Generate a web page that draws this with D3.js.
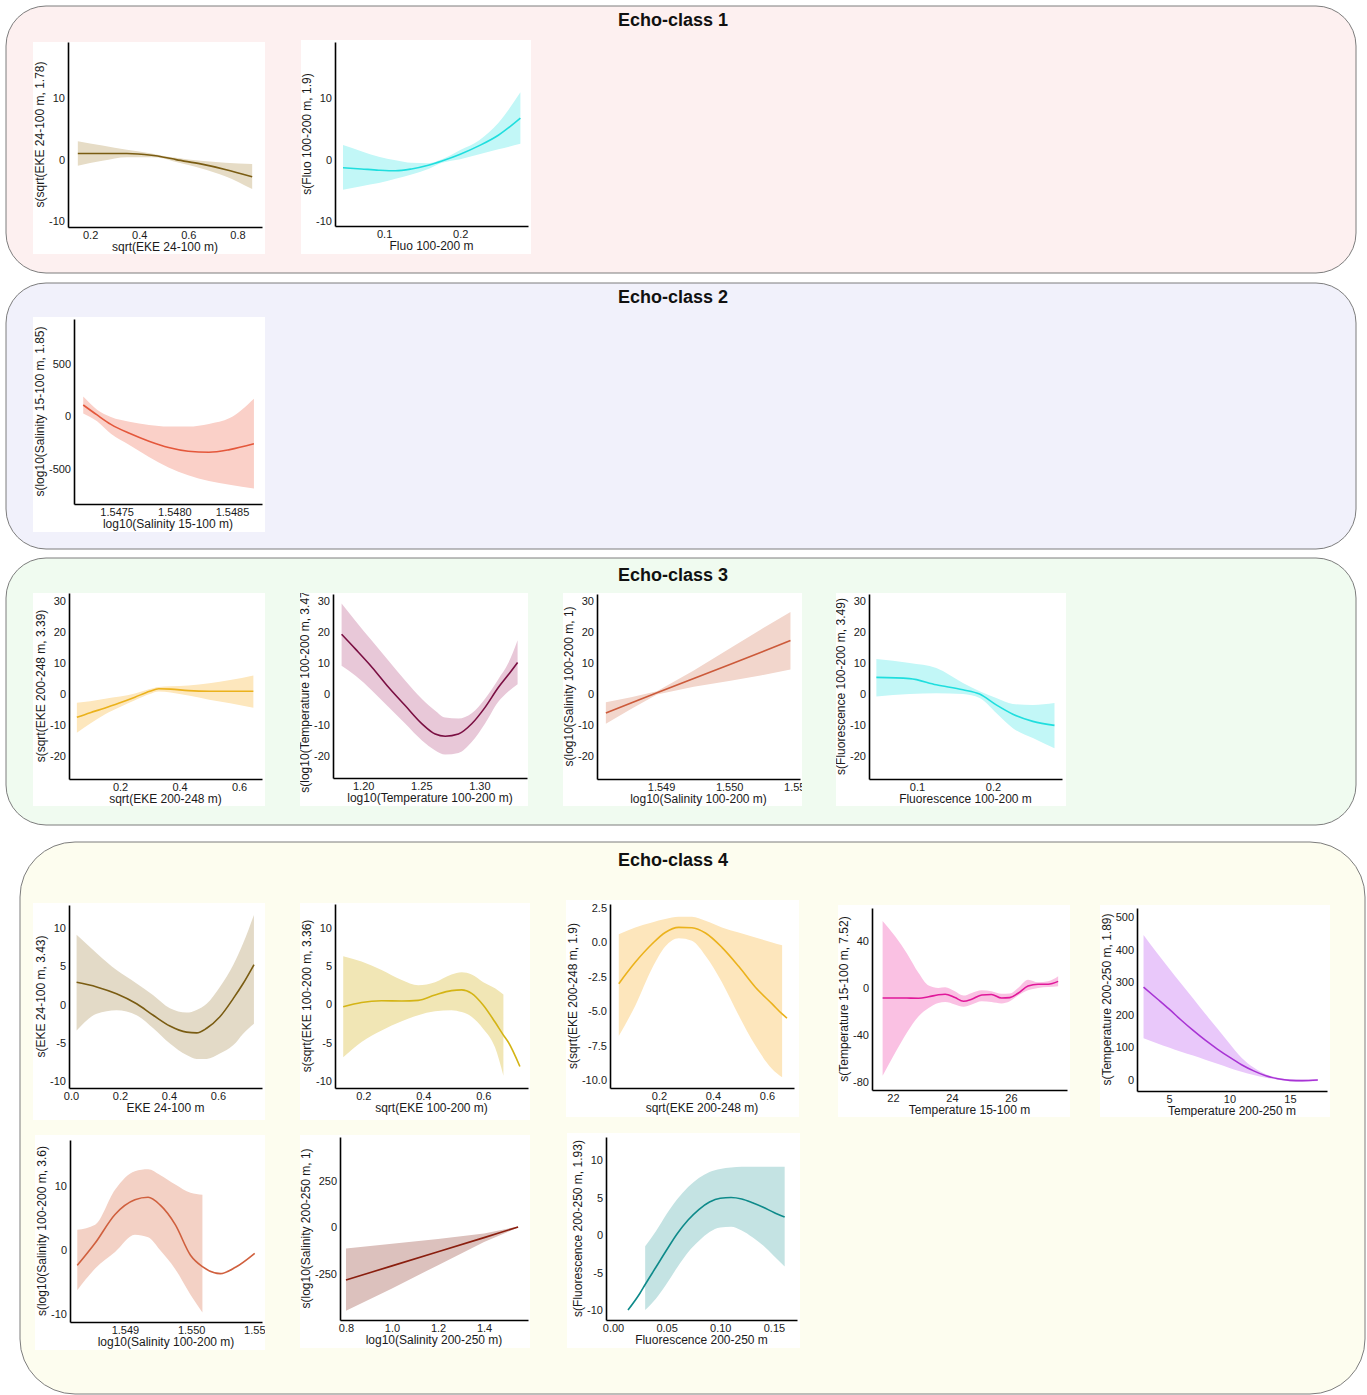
<!DOCTYPE html>
<html>
<head>
<meta charset="utf-8">
<script src="https://cdn.jsdelivr.net/npm/d3@7"></script>
<style>
  body { margin: 0; background: #fff; }
  svg { display: block; }
</style>
</head>
<body>
<div id="fig"></div>
<script>
// ---- data ----
const echoClasses = ['Echo-class 1', 'Echo-class 2', 'Echo-class 3', 'Echo-class 4'];

// Echo-class 1
const e1EkeX = [0.15, 0.25, 0.35, 0.45, 0.5, 0.55, 0.65, 0.75, 0.86];
const e1EkeFit = [1.0, 1.0, 1.0, 0.7, 0.4, 0.0, -0.7, -1.6, -2.8];
const e1EkeLo = [-1.0, -0.2, 0.4, 0.4, 0.2, -0.4, -1.4, -2.7, -4.8];
const e1EkeHi = [3.0, 2.3, 1.6, 1.0, 0.6, 0.3, -0.2, -0.5, -0.7];

const e1FluoX = [0.046, 0.07, 0.093, 0.115, 0.136, 0.158, 0.176, 0.2, 0.225, 0.25, 0.279];
const e1FluoFit = [-1.3, -1.5, -1.7, -1.8, -1.5, -0.9, -0.2, 0.9, 2.3, 4.0, 6.8];
const e1FluoLo = [-4.9, -4.3, -3.8, -3.1, -2.4, -1.5, -0.5, 0.1, 0.9, 1.7, 2.6];
const e1FluoHi = [2.4, 1.4, 0.5, -0.1, -0.5, -0.55, 0.1, 1.6, 3.2, 6.0, 11.0];

// Echo-class 2
const e2SalX = [1.54721, 1.54733, 1.54745, 1.54761, 1.54778, 1.54795, 1.54812, 1.5483, 1.54848, 1.54869];
const e2SalFit = [105, 10, -80, -165, -240, -300, -335, -345, -320, -265];
const e2SalLo = [25, -50, -170, -275, -390, -490, -565, -620, -655, -690];
const e2SalHi = [185, 60, -10, -55, -85, -100, -100, -75, -20, 165];

// Echo-class 3
const e3EkeX = [0.055, 0.1, 0.15, 0.2, 0.25, 0.3, 0.33, 0.37, 0.43, 0.5, 0.57, 0.648];
const e3EkeFit = [-7.5, -6.0, -4.5, -2.8, -1.0, 0.9, 1.7, 1.6, 1.1, 0.9, 0.9, 0.9];
const e3EkeLo = [-12.5, -9.5, -6.5, -4.2, -2.0, 0.0, 0.8, 0.5, -0.5, -1.8, -3.0, -4.4];
const e3EkeHi = [-2.8, -2.3, -1.5, -0.8, 0.2, 1.6, 2.3, 2.5, 2.8, 3.5, 4.5, 6.0];

const e3TempX = [1.1814, 1.1934, 1.2077, 1.222, 1.2363, 1.2506, 1.262, 1.2706, 1.282, 1.2934, 1.3049, 1.3163, 1.3249, 1.3329];
const e3TempFit = [19.3, 14.5, 8.6, 2.1, -3.8, -9.6, -12.9, -13.6, -12.9, -9.6, -4.3, 2.1, 6.2, 10.2];
const e3TempLo = [9.1, 5.9, 1.1, -4.3, -9.6, -15.0, -18.2, -19.5, -19.0, -15.5, -9.5, -2.5, 0.8, 3.2];
const e3TempHi = [29.2, 23.6, 17.1, 10.7, 4.3, -1.6, -5.4, -7.6, -7.9, -6.2, -1.5, 4.8, 10.0, 17.4];

const e3SalX = [1.54819, 1.54856, 1.54894, 1.54948, 1.55002, 1.55046, 1.5509];
const e3SalFit = [-6.1, -2.9, 0.4, 5.0, 9.6, 13.4, 17.3];
const e3SalLo = [-9.6, -4.8, -0.1, 2.4, 4.3, 6.0, 7.9];
const e3SalHi = [-2.6, -1.0, 0.9, 7.6, 14.9, 20.8, 26.5];

const e3FluoX = [0.0465, 0.0904, 0.1254, 0.1605, 0.1825, 0.2044, 0.2263, 0.2526, 0.2811];
const e3FluoFit = [5.4, 5.0, 3.0, 1.4, 0.0, -3.5, -6.5, -8.8, -10.1];
const e3FluoLo = [-0.8, 0.0, 0.3, 0.0, -1.3, -6.1, -11.0, -14.2, -17.5];
const e3FluoHi = [11.3, 10.0, 8.4, 3.6, 0.9, -1.3, -3.2, -3.5, -2.9];

// Echo-class 4
const e4Eke24X = [0.023, 0.105, 0.186, 0.268, 0.336, 0.404, 0.472, 0.513, 0.554, 0.608, 0.663, 0.703, 0.747];
const e4Eke24Fit = [2.9, 2.3, 1.4, 0.1, -1.4, -2.8, -3.6, -3.7, -3.1, -1.6, 0.8, 2.75, 5.2];
const e4Eke24Lo = [-3.4, -1.2, -0.74, -1.4, -3.1, -5.1, -6.6, -7.1, -7.1, -6.4, -5.3, -3.8, -2.5];
const e4Eke24Hi = [9.1, 6.7, 4.5, 2.75, 1.2, -0.5, -1.05, -0.7, 0.1, 2.3, 5.2, 8.0, 11.7];

const e4Eke100X = [0.133, 0.194, 0.261, 0.328, 0.383, 0.439, 0.494, 0.528, 0.561, 0.6, 0.639, 0.667, 0.683, 0.722];
const e4Eke100Fit = [-0.3, 0.26, 0.48, 0.44, 0.53, 1.23, 1.8, 1.9, 1.45, -0.1, -2.3, -4.0, -4.9, -8.1];
const e4Eke100Lo = [-6.9, -4.9, -3.4, -2.2, -1.4, -0.9, -0.75, -1.0, -1.6, -3.2, -5.6, -9.3, null, null];
const e4Eke100Hi = [6.3, 5.6, 4.5, 3.2, 2.5, 2.9, 3.9, 4.2, 3.9, 2.9, 2.1, 1.3, null, null];

const e4Eke200X = [0.051, 0.112, 0.174, 0.223, 0.273, 0.322, 0.372, 0.433, 0.495, 0.557, 0.619, 0.656, 0.674];
const e4Eke200Fit = [-3.0, -1.45, -0.12, 0.72, 1.09, 1.06, 0.68, -0.36, -1.74, -3.26, -4.47, -5.2, -5.5];
const e4Eke200Lo = [-6.8, -4.6, -1.9, -0.3, 0.3, 0.12, -0.97, -2.9, -5.3, -7.5, -9.2, -9.8, null];
const e4Eke200Hi = [0.6, 1.09, 1.45, 1.7, 1.86, 1.86, 1.57, 1.09, 0.72, 0.36, 0.0, -0.2, null];

const e4Temp15X = [21.65, 22.08, 22.47, 22.87, 23.21, 23.54, 23.77, 24.1, 24.39, 24.67, 25.01, 25.34, 25.68, 25.96, 26.24, 26.58, 26.92, 27.26, 27.6];
const e4Temp15Fit = [-8.5, -8.5, -8.6, -8.7, -7.5, -5.8, -5.3, -8.2, -11.3, -9.6, -6.0, -5.6, -8.6, -8.2, -4.5, 1.6, 3.2, 3.2, 5.6];
const e4Temp15Lo = [-74.6, -55, -38, -24, -17, -12.7, -12, -14, -16, -14, -11.3, -12, -13.2, -11.3, -6.5, -2.0, 0.0, 0.8, 1.5];
const e4Temp15Hi = [57, 43.7, 29.6, 12.7, 2, 0, 0.6, -2.8, -6.5, -4.2, -2, -2.8, -5, -4.8, 0, 7, 4.8, 5.6, 9.9];

const e4Temp200X = [2.9, 4, 5, 6, 7, 8, 9, 10, 11, 12, 13, 14, 15, 16, 17.3];
const e4Temp200Fit = [285, 250, 218, 184, 152, 122, 95, 70, 47, 28, 13, 4, -1, -2, 0];
const e4Temp200Lo = [128, 113, 100, 87, 75, 62, 50, 37, 25, 15, 7, 1, -4, -5, -3];
const e4Temp200Hi = [445, 390, 343, 296, 250, 203, 158, 112, 68, 38, 18, 7, 2, 1, 3];

const e4Sal100X = [1.54828, 1.54855, 1.54885, 1.54915, 1.54935, 1.54953, 1.54976, 1.54999, 1.55017, 1.55044, 1.55067, 1.55096];
const e4Sal100Fit = [-2.4, 1.1, 5.6, 7.9, 8.3, 7.1, 4.0, -0.8, -2.6, -3.7, -2.7, -0.5];
const e4Sal100Lo = [-6.3, -2.9, -0.3, 2.4, 2.0, 0.0, -3.0, -7.0, -9.8, null, null, null];
const e4Sal100Hi = [3.2, 4.0, 9.5, 12.4, 12.7, 11.8, 10.3, 9.0, 8.7, null, null, null];

const e4Sal200X = [0.8, 1.0, 1.2, 1.4, 1.548];
const e4Sal200Fit = [-285, -209, -133, -57, 0];
const e4Sal200Lo = [-450, -330, -205, -80, -3];
const e4Sal200Hi = [-115, -90, -65, -35, 3];

const e4Fluo200X = [0.014, 0.025, 0.03, 0.04, 0.05, 0.06, 0.07, 0.08, 0.09, 0.1, 0.11, 0.12, 0.13, 0.14, 0.15, 0.16];
const e4Fluo200Fit = [-10, -7.8, -6.6, -4.3, -2.0, 0.2, 2.0, 3.4, 4.4, 4.9, 5.0, 4.8, 4.3, 3.7, 3.0, 2.4];
const e4Fluo200Lo = [null, null, -10, -8.5, -6.5, -4.3, -2.3, -0.8, 0.4, 1.0, 1.1, 0.6, -0.3, -1.4, -2.8, -4.2];
const e4Fluo200Hi = [null, null, -1.5, 0.5, 2.8, 4.8, 6.4, 7.6, 8.4, 8.8, 9.0, 9.1, 9.1, 9.1, 9.1, 9.1];

// ---- layout ----
const W = 1367, H = 1395;
const FONT = '"Liberation Sans", Arial, sans-serif';
const TICK_FS = 11;
const TITLE_FS = 12;

const panels = [
  { x: 6, y: 6, w: 1350, h: 267, r: 40, fill: '#fdf0f0', ty: 26 },
  { x: 6, y: 283, w: 1350, h: 266, r: 40, fill: '#f1f1fb', ty: 303 },
  { x: 6, y: 558, w: 1350, h: 267, r: 40, fill: '#f0fbf0', ty: 581 },
  { x: 20, y: 842, w: 1345, h: 552, r: 55, fill: '#fdfdef', ty: 866 }
];

const charts = [
  { card: [33, 42, 232, 212], plot: [68, 42, 262, 227], xd: [0.11, 0.90], yd: [-11, 19.2],
    xt: [0.2, 0.4, 0.6, 0.8], xf: '.1f', yt: [-10, 0, 10], yf: 'd',
    xl: 'sqrt(EKE 24-100 m)', yl: 's(sqrt(EKE 24-100 m, 1.78)',
    x: e1EkeX, fit: e1EkeFit, lo: e1EkeLo, hi: e1EkeHi, color: '#7a5c12', band: '#e6dcc6' },
  { card: [301, 40, 230, 214], plot: [335, 42, 528, 226], xd: [0.0355, 0.289], yd: [-10.8, 19.2],
    xt: [0.1, 0.2], xf: '.1f', yt: [-10, 0, 10], yf: 'd',
    xl: 'Fluo 100-200 m', yl: 's(Fluo 100-200 m, 1.9)',
    x: e1FluoX, fit: e1FluoFit, lo: e1FluoLo, hi: e1FluoHi, color: '#1fdede', band: '#c2f7f7' },
  { card: [33, 317, 232, 215], plot: [74, 319, 262, 504], xd: [1.54713, 1.54876], yd: [-838, 924],
    xt: [1.5475, 1.548, 1.5485], xf: '.4f', yt: [-500, 0, 500], yf: 'd',
    xl: 'log10(Salinity 15-100 m)', yl: 's(log10(Salinity 15-100 m, 1.85)',
    x: e2SalX, fit: e2SalFit, lo: e2SalLo, hi: e2SalHi, color: '#e4573b', band: '#fad0c8' },
  { card: [33, 593, 232, 213], plot: [69, 593, 262, 779], xd: [0.0286, 0.677], yd: [-27.4, 32.6],
    xt: [0.2, 0.4, 0.6], xf: '.1f', yt: [-20, -10, 0, 10, 20, 30], yf: 'd',
    xl: 'sqrt(EKE 200-248 m)', yl: 's(sqrt(EKE 200-248 m, 3.39)',
    x: e3EkeX, fit: e3EkeFit, lo: e3EkeLo, hi: e3EkeHi, color: '#ebb21c', band: '#fde7bd' },
  { card: [300, 593, 228, 213], plot: [333, 594, 527, 778], xd: [1.174, 1.341], yd: [-27.1, 32.3],
    xt: [1.2, 1.25, 1.3], xf: '.2f', yt: [-20, -10, 0, 10, 20, 30], yf: 'd',
    xl: 'log10(Temperature 100-200 m)', yl: 's(log10(Temperature 100-200 m, 3.47)', ylShift: 4,
    x: e3TempX, fit: e3TempFit, lo: e3TempLo, hi: e3TempHi, color: '#7a0f42', band: '#e8c8d8' },
  { card: [563, 593, 239, 213], plot: [597, 594, 800, 779], xd: [1.54806, 1.55104], yd: [-27.4, 32.3],
    xt: [1.549, 1.55, 1.551], xf: '.3f', yt: [-20, -10, 0, 10, 20, 30], yf: 'd',
    xl: 'log10(Salinity 100-200 m)', yl: 's(log10(Salinity 100-200 m, 1)', linear: true,
    x: e3SalX, fit: e3SalFit, lo: e3SalLo, hi: e3SalHi, color: '#cc5a3a', band: '#f2d6cc' },
  { card: [836, 593, 230, 213], plot: [869, 594, 1062, 779], xd: [0.0368, 0.291], yd: [-27.4, 32.3],
    xt: [0.1, 0.2], xf: '.1f', yt: [-20, -10, 0, 10, 20, 30], yf: 'd',
    xl: 'Fluorescence 100-200 m', yl: 's(Fluorescence 100-200 m, 3.49)',
    x: e3FluoX, fit: e3FluoFit, lo: e3FluoLo, hi: e3FluoHi, color: '#1fdede', band: '#c2f7f7' },
  { card: [33, 903, 232, 217], plot: [69, 905, 262, 1088], xd: [-0.008, 0.78], yd: [-10.9, 13.0],
    xt: [0, 0.2, 0.4, 0.6], xf: '.1f', yt: [-10, -5, 0, 5, 10], yf: 'd',
    xl: 'EKE 24-100 m', yl: 's(EKE 24-100 m, 3.43)',
    x: e4Eke24X, fit: e4Eke24Fit, lo: e4Eke24Lo, hi: e4Eke24Hi, color: '#7a5c12', band: '#e3dac7' },
  { card: [300, 903, 230, 217], plot: [335, 904, 528, 1088], xd: [0.1056, 0.749], yd: [-10.9, 13.1],
    xt: [0.2, 0.4, 0.6], xf: '.1f', yt: [-10, -5, 0, 5, 10], yf: 'd',
    xl: 'sqrt(EKE 100-200 m)', yl: 's(sqrt(EKE 100-200 m, 3.36)',
    x: e4Eke100X, fit: e4Eke100Fit, lo: e4Eke100Lo, hi: e4Eke100Hi, color: '#d4b415', band: '#f1e6b5' },
  { card: [566, 900, 233, 217], plot: [610, 904, 794, 1088], xd: [0.0185, 0.70], yd: [-10.58, 2.79],
    xt: [0.2, 0.4, 0.6], xf: '.1f', yt: [-10, -7.5, -5, -2.5, 0, 2.5], yf: '.1f',
    xl: 'sqrt(EKE 200-248 m)', yl: 's(sqrt(EKE 200-248 m, 1.9)',
    x: e4Eke200X, fit: e4Eke200Fit, lo: e4Eke200Lo, hi: e4Eke200Hi, color: '#ebb21c', band: '#fde6bc' },
  { card: [838, 905, 232, 212], plot: [872, 908, 1067, 1090], xd: [21.29, 27.9], yd: [-86.8, 68],
    xt: [22, 24, 26], xf: 'd', yt: [-80, -40, 0, 40], yf: 'd',
    xl: 'Temperature 15-100 m', yl: 's(Temperature 15-100 m, 7.52)',
    x: e4Temp15X, fit: e4Temp15Fit, lo: e4Temp15Lo, hi: e4Temp15Hi, color: '#e0189a', band: '#fac1e3' },
  { card: [1100, 905, 230, 212], plot: [1137, 908, 1327, 1091], xd: [2.36, 18.06], yd: [-33.7, 527.6],
    xt: [5, 10, 15], xf: 'd', yt: [0, 100, 200, 300, 400, 500], yf: 'd',
    xl: 'Temperature 200-250 m', yl: 's(Temperature 200-250 m, 1.89)',
    x: e4Temp200X, fit: e4Temp200Fit, lo: e4Temp200Lo, hi: e4Temp200Hi, color: '#a834d4', band: '#e9c8fa' },
  { card: [35, 1135, 230, 215], plot: [70, 1140, 262, 1322], xd: [1.54817, 1.55107], yd: [-11.3, 17.3],
    xt: [1.549, 1.55, 1.551], xf: '.3f', yt: [-10, 0, 10], yf: 'd',
    xl: 'log10(Salinity 100-200 m)', yl: 's(log10(Salinity 100-200 m, 3.6)',
    x: e4Sal100X, fit: e4Sal100Fit, lo: e4Sal100Lo, hi: e4Sal100Hi, color: '#d0603e', band: '#f3d1c5' },
  { card: [300, 1135, 230, 213], plot: [340, 1137, 528, 1320], xd: [0.774, 1.591], yd: [-500, 484],
    xt: [0.8, 1.0, 1.2, 1.4], xf: '.1f', yt: [-250, 0, 250], yf: 'd',
    xl: 'log10(Salinity 200-250 m)', yl: 's(log10(Salinity 200-250 m, 1)', linear: true,
    x: e4Sal200X, fit: e4Sal200Fit, lo: e4Sal200Lo, hi: e4Sal200Hi, color: '#8a1e0e', band: '#dcc1bd' },
  { card: [567, 1133, 233, 215], plot: [606, 1137, 797, 1320], xd: [-0.0065, 0.1715], yd: [-11.33, 13.07],
    xt: [0, 0.05, 0.1, 0.15], xf: '.2f', yt: [-10, -5, 0, 5, 10], yf: 'd',
    xl: 'Fluorescence 200-250 m', yl: 's(Fluorescence 200-250 m, 1.93)',
    x: e4Fluo200X, fit: e4Fluo200Fit, lo: e4Fluo200Lo, hi: e4Fluo200Hi, color: '#0e8a8a', band: '#c4e3e3' }
];

// hyphen minus like the original, not U+2212
const fmt = d3.formatLocale({ decimal: '.', thousands: ',', grouping: [3], currency: ['', ''], minus: '-' }).format;

const svg = d3.select('#fig').append('svg')
  .attr('width', W)
  .attr('height', H)
  .style('font-family', FONT);

svg.selectAll('rect.panel')
  .data(panels)
  .join('rect')
  .attr('class', 'panel')
  .attr('x', d => d.x).attr('y', d => d.y)
  .attr('width', d => d.w).attr('height', d => d.h)
  .attr('rx', d => d.r).attr('ry', d => d.r)
  .attr('fill', d => d.fill)
  .attr('stroke', '#7d7d7d')
  .attr('stroke-width', 1);

svg.selectAll('text.title')
  .data(panels)
  .join('text')
  .attr('class', 'title')
  .attr('x', 673)
  .attr('y', d => d.ty)
  .attr('text-anchor', 'middle')
  .attr('font-size', 18)
  .attr('font-weight', 'bold')
  .attr('fill', '#111')
  .text((d, i) => echoClasses[i]);

const drawChart = (c, i) => {
  const [cx, cy, cw, ch] = c.card;
  const [l, t, r, b] = c.plot;

  svg.append('clipPath').attr('id', 'card' + i)
    .append('rect').attr('x', cx).attr('y', cy).attr('width', cw).attr('height', ch);

  const g = svg.append('g').attr('clip-path', `url(#card${i})`);
  g.append('rect')
    .attr('x', cx).attr('y', cy).attr('width', cw).attr('height', ch)
    .attr('fill', '#fff');

  const x = d3.scaleLinear().domain(c.xd).range([l, r]);
  const y = d3.scaleLinear().domain(c.yd).range([b, t]);
  const curve = c.linear ? d3.curveLinear : d3.curveMonotoneX;

  const rows = c.x.map((v, k) => ({ x: v, fit: c.fit[k], lo: c.lo[k], hi: c.hi[k] }));

  const area = d3.area()
    .defined(d => d.lo != null && d.hi != null)
    .x(d => x(d.x))
    .y0(d => y(d.lo))
    .y1(d => y(d.hi))
    .curve(curve);

  const line = d3.line()
    .x(d => x(d.x))
    .y(d => y(d.fit))
    .curve(curve);

  g.append('path').datum(rows).attr('d', area).attr('fill', c.band);
  g.append('path').datum(rows).attr('d', line)
    .attr('fill', 'none').attr('stroke', c.color).attr('stroke-width', 1.6);

  const xa = g.append('g')
    .attr('transform', `translate(0,${b})`)
    .call(d3.axisBottom(x).tickValues(c.xt).tickFormat(fmt(c.xf)).tickSize(0).tickPadding(4));
  const ya = g.append('g')
    .attr('transform', `translate(${l},0)`)
    .call(d3.axisLeft(y).tickValues(c.yt).tickFormat(fmt(c.yf)).tickSize(0).tickPadding(3));

  [xa, ya].forEach(a => {
    a.attr('font-family', FONT);
    a.select('.domain').attr('stroke', '#000').attr('stroke-width', 1.6);
    a.selectAll('text').attr('font-size', TICK_FS).attr('fill', '#1a1a1a');
  });

  g.append('text')
    .attr('x', (l + r) / 2)
    .attr('y', b + 24)
    .attr('text-anchor', 'middle')
    .attr('font-size', TITLE_FS)
    .attr('fill', '#1a1a1a')
    .text(c.xl);

  // y title: baseline just left of the widest tick label
  const tw = d3.max(ya.selectAll('text').nodes(), n => n.getBBox().width);
  g.append('text')
    .attr('transform', `translate(${l - 3 - tw - 5},${(t + b) / 2 + (c.ylShift || 0)}) rotate(-90)`)
    .attr('text-anchor', 'middle')
    .attr('font-size', TITLE_FS)
    .attr('fill', '#1a1a1a')
    .text(c.yl);
};

charts.forEach(drawChart);
</script>
</body>
</html>
